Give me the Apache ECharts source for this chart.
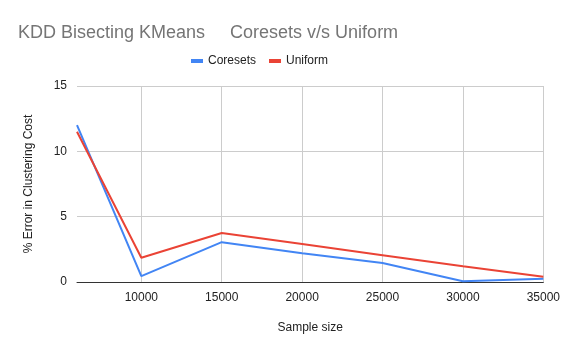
<!DOCTYPE html>
<html>
<head>
    <meta charset="utf-8">
    <title>KDD Bisecting KMeans</title>
    <script src="https://cdn.jsdelivr.net/npm/echarts@6/dist/echarts.min.js"></script>
</head>
<body style="margin:0">
    <div id="main" style="width: 563px;height:353px;"></div>
    <script type="text/javascript">
        var sampleSizes = [6000, 10000, 15000, 20000, 25000, 30000, 35000];
        var coresets = [12.0, 0.45, 3.05, 2.2, 1.45, 0.05, 0.25];
        var uniform = [11.5, 1.85, 3.75, 2.9, 2.05, 1.2, 0.4];
        var xTicks = [10000, 15000, 20000, 25000, 30000, 35000];

        function pairs(vals) {
            var out = [];
            for (var i = 0; i < sampleSizes.length; i++) {
                out.push([sampleSizes[i], vals[i]]);
            }
            return out;
        }

        var myChart = echarts.init(document.getElementById('main'));
        var option = {
            backgroundColor: '#fff',
            textStyle: { fontFamily: 'Liberation Sans' },
            title: {
                text: 'KDD Bisecting KMeans     Coresets v/s Uniform',
                left: 13,
                top: 19,
                textStyle: { fontSize: 18, fontWeight: 'normal', color: '#757575', fontFamily: 'Liberation Sans' }
            },
            legend: {
                top: 50,
                left: 186,
                itemWidth: 12,
                itemHeight: 4,
                itemGap: 13,
                icon: 'rect',
                textStyle: { fontSize: 12, color: '#222' },
                data: ['Coresets', 'Uniform']
            },
            grid: { left: 77, right: 18, top: 86, bottom: 71 },
            xAxis: {
                type: 'value',
                min: 6000,
                max: 35000,
                name: 'Sample size',
                nameLocation: 'middle',
                nameGap: 40,
                nameTextStyle: { fontSize: 12, color: '#222' },
                axisLine: { lineStyle: { color: '#333' } },
                axisTick: { show: false, customValues: xTicks },
                axisLabel: {
                    customValues: xTicks,
                    color: '#222',
                    fontSize: 12,
                    margin: 10,
                    formatter: function (v) { return String(v); }
                },
                splitLine: { show: true, lineStyle: { color: '#ccc' } }
            },
            yAxis: {
                type: 'value',
                min: 0,
                max: 15,
                interval: 5,
                name: '% Error in Clustering Cost',
                nameLocation: 'middle',
                nameGap: 42,
                nameTextStyle: { fontSize: 12, color: '#222' },
                axisLine: { show: false },
                axisTick: { show: false },
                axisLabel: { color: '#222', fontSize: 12, margin: 10 },
                splitLine: { lineStyle: { color: '#ccc' } }
            },
            series: [
                {
                    name: 'Coresets',
                    type: 'line',
                    data: pairs(coresets),
                    symbol: 'none',
                    itemStyle: { color: '#4285f4' },
                    lineStyle: { width: 2, color: '#4285f4' }
                },
                {
                    name: 'Uniform',
                    type: 'line',
                    data: pairs(uniform),
                    symbol: 'none',
                    itemStyle: { color: '#ea4335' },
                    lineStyle: { width: 2, color: '#ea4335' }
                }
            ]
        };
        myChart.setOption(option);
    </script>
</body>
</html>
